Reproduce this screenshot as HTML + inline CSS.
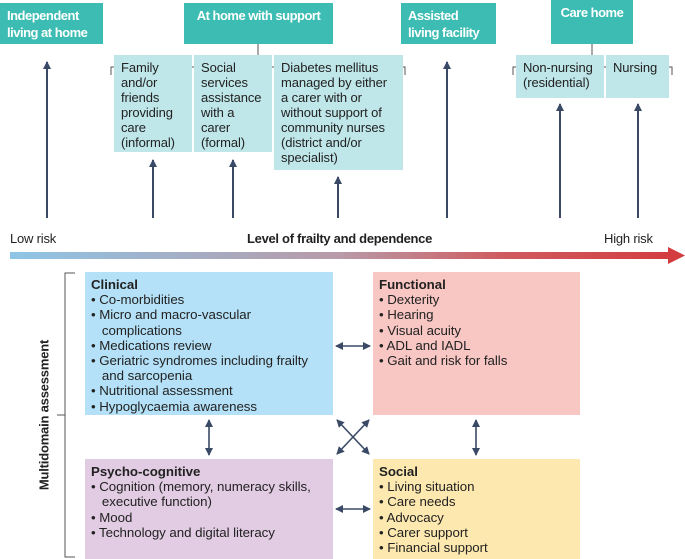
<!DOCTYPE html><html><head><style>
body{margin:0;width:685px;height:559px;position:relative;background:#fff;font-family:"Liberation Sans",sans-serif;color:#222;overflow:hidden}
.a{position:absolute;box-sizing:border-box;white-space:nowrap}
.t{background:#3cbcb2;color:#fff;font-weight:bold;font-size:13px;line-height:17px;padding:4px 7px;letter-spacing:-0.5px}
.s{background:#bfe6e8;font-size:13px;line-height:15px;padding:5px 7px;letter-spacing:-0.1px}
.b{font-size:13.3px;line-height:15.2px;padding:5px 6px;letter-spacing:-0.05px}
.b b{display:block}
</style></head><body>
<svg class="a" style="left:0;top:0" width="685" height="559">
<defs><linearGradient id="g" x1="0" x2="1"><stop offset="0" stop-color="#8ec5e6"/><stop offset=".5" stop-color="#b89aa8"/><stop offset=".75" stop-color="#cf5b5f"/><stop offset="1" stop-color="#d33d40"/></linearGradient>
<marker id="m" markerWidth="8" markerHeight="8" refX="7" refY="4" orient="auto-start-reverse" markerUnits="userSpaceOnUse"><path d="M0,0L8,4L0,8z" fill="#3a4a66"/></marker></defs>
<rect x="10" y="252" width="660" height="7" fill="url(#g)"/><path d="M668,247L685,255.5L668,264z" fill="#d33d40"/>
<g stroke="#3a4a66" stroke-width="2" fill="none" marker-end="url(#m)">
<line x1="47" y1="218" x2="47" y2="62"/><line x1="153" y1="218" x2="153" y2="160"/><line x1="233" y1="218" x2="233" y2="160"/><line x1="338" y1="218" x2="338" y2="177"/><line x1="447" y1="218" x2="447" y2="62"/><line x1="560" y1="218" x2="560" y2="104"/><line x1="638" y1="218" x2="638" y2="104"/>
</g>
<g stroke="#3a4a66" stroke-width="1.6" fill="none" marker-end="url(#m)" marker-start="url(#m)">
<line x1="336" y1="346" x2="370" y2="346"/><line x1="336" y1="509" x2="370" y2="509"/><line x1="209" y1="420" x2="209" y2="455"/><line x1="476" y1="420" x2="476" y2="455"/><line x1="337" y1="420" x2="369" y2="454"/><line x1="369" y1="420" x2="337" y2="454"/>
</g>
<g stroke="#555" stroke-width="1" fill="none">
<path d="M111,75V67H405V75M258,67V44"/><path d="M513,75V67H672V75M592,67V44"/>
<path d="M75,273H65V557H75M65,415H57"/>
</g></svg>
<div class="a t" style="left:0;top:3px;width:103px;height:41px">Independent<br>living at home</div>
<div class="a t" style="left:184px;top:3px;width:149px;height:41px;text-align:center">At home with support</div>
<div class="a t" style="left:401px;top:3px;width:95px;height:41px">Assisted<br>living facility</div>
<div class="a t" style="left:551px;top:0;width:82px;height:44px;text-align:center">Care home</div>
<div class="a s" style="left:114px;top:55px;width:78px;height:97px">Family<br>and/or<br>friends<br>providing<br>care<br>(informal)</div>
<div class="a s" style="left:194px;top:55px;width:78px;height:97px">Social<br>services<br>assistance<br>with a<br>carer<br>(formal)</div>
<div class="a s" style="left:274px;top:55px;width:129px;height:115px">Diabetes mellitus<br>managed by either<br>a carer with or<br>without support of<br>community nurses<br>(district and/or<br>specialist)</div>
<div class="a s" style="left:516px;top:55px;width:88px;height:43px">Non-nursing<br>(residential)</div>
<div class="a s" style="left:606px;top:55px;width:63px;height:43px">Nursing</div>
<div class="a" style="left:10px;top:231px;font-size:13px;letter-spacing:-0.2px">Low risk</div>
<div class="a" style="left:247px;top:231px;font-size:13px;font-weight:bold;letter-spacing:-0.3px">Level of frailty and dependence</div>
<div class="a" style="left:604px;top:231px;font-size:13px;letter-spacing:-0.2px">High risk</div>
<div class="a b" style="left:85px;top:272px;width:248px;height:143px;background:#b4e1f7"><b>Clinical</b>• Co-morbidities<br>• Micro and macro-vascular<br>&nbsp;&nbsp;&nbsp;complications<br>• Medications review<br>• Geriatric syndromes including frailty<br>&nbsp;&nbsp;&nbsp;and sarcopenia<br>• Nutritional assessment<br>• Hypoglycaemia awareness</div>
<div class="a b" style="left:373px;top:272px;width:207px;height:143px;background:#f8c6c3"><b>Functional</b>• Dexterity<br>• Hearing<br>• Visual acuity<br>• ADL and IADL<br>• Gait and risk for falls</div>
<div class="a b" style="left:85px;top:459px;width:248px;height:100px;background:#e2cce3"><b>Psycho-cognitive</b>• Cognition (memory, numeracy skills,<br>&nbsp;&nbsp;&nbsp;executive function)<br>• Mood<br>• Technology and digital literacy</div>
<div class="a b" style="left:373px;top:459px;width:207px;height:100px;background:#fde9b0"><b>Social</b>• Living situation<br>• Care needs<br>• Advocacy<br>• Carer support<br>• Financial support</div>
<div class="a" style="left:44px;top:415px;width:0;height:0"><div style="position:absolute;transform:translate(-50%,-50%) rotate(-90deg);white-space:nowrap;font-weight:bold;font-size:13px;letter-spacing:-0.2px">Multidomain assessment</div></div>
</body></html>
